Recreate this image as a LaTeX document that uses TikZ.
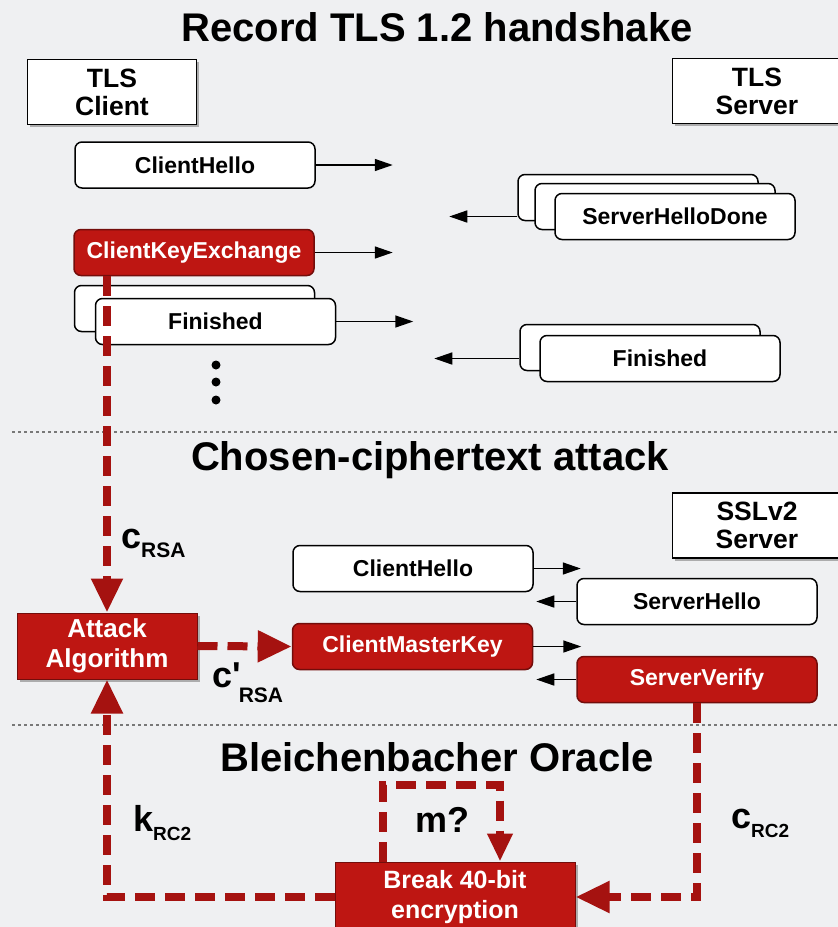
\documentclass[tikz,border=0pt]{standalone}
\usepackage{fontspec}
\setmainfont{Liberation Sans}
\usetikzlibrary{arrows.meta,shadows,positioning}
\definecolor{pagebg}{RGB}{239,240,242}
\definecolor{attackred}{RGB}{190,22,18}
\definecolor{dashred}{RGB}{165,18,16}
\definecolor{sepgray}{RGB}{120,120,120}

\begin{document}
\begin{tikzpicture}[x=1pt,y=-1pt,
    party/.style={draw,line width=1.6pt,fill=white,minimum width=169pt,minimum height=65pt,
      align=center,font=\fontsize{26.5}{28}\selectfont\bfseries,
      drop shadow={shadow xshift=2.5pt,shadow yshift=-2.5pt,opacity=.6}},
    msg/.style={draw,line width=1.5pt,rounded corners=7pt,fill=white,
      minimum width=240pt,minimum height=46pt,font=\fontsize{23}{24}\selectfont\bfseries},
    redmsg/.style={msg,fill=attackred,draw=dashred!70!black,text=white},
    attackbox/.style={draw=dashred!70!black,line width=1pt,fill=attackred,text=white,
      align=center,font=\fontsize{26}{30}\selectfont\bfseries,
      drop shadow={shadow xshift=2.5pt,shadow yshift=-2.5pt,opacity=.6}},
    msgarrow/.style={-{Triangle[length=18pt,width=12pt]},line width=1.5pt},
    attackflow/.style={dashred,line width=8pt,dash pattern=on 20pt off 10pt,
      -{Triangle[length=34pt,width=30pt]}},
    section/.style={font=\fontsize{40}{41}\selectfont\bfseries},
    sep/.style={sepgray,line width=2pt,dash pattern=on 3pt off 3pt},
    lbl/.style={font=\fontsize{36}{36}\selectfont\bfseries,inner sep=0pt}]

    \path[use as bounding box,fill=pagebg] (0,0) rectangle (838,927);

    % Record TLS 1.2 handshake
    \node[section] (title1) at (437,27) {Record TLS 1.2 handshake};
    \node[party] (client) at (112,92) {TLS\\Client};
    \node[party] (tlsserver) at (757,91) {TLS\\Server};

    \node[msg] (hello) at (195,165) {ClientHello};
    \node[redmsg] (cke) at (194,252.5) {ClientKeyExchange};
    \node[msg] (finback) at (194.5,308.5) {};
    \node[msg] (fin) at (215.5,321.5) {Finished};
    \foreach \y in {365,382,400} \fill (216,\y) circle (4.5pt);

    \node[msg] (shdA) at (638,197.5) {};
    \node[msg] (shdB) at (655,206.5) {};
    \node[msg] (shd) at (675,216.5) {ServerHelloDone};
    \node[msg] (sfinback) at (640,347.5) {};
    \node[msg] (sfin) at (660,358.5) {Finished};

    \coordinate[right=77pt of hello.east] (helloto);
    \coordinate[right=78pt of cke.east] (cketo);
    \coordinate[right=77pt of fin.east] (finto);
    \coordinate (shdfrom) at (shdA.west |- shd.west);
    \coordinate[left=68pt of shdfrom] (shdto);
    \coordinate (sfinfrom) at (sfinback.west |- sfin.west);
    \coordinate[left=85pt of sfinfrom] (sfinto);
    \draw[msgarrow] (hello.east) -- (helloto);
    \draw[msgarrow] (cke.east) -- (cketo);
    \draw[msgarrow] (fin.east) -- (finto);
    \draw[msgarrow] (shdfrom) -- (shdto);
    \draw[msgarrow] (sfinfrom) -- (sfinto);

    \coordinate (sepL1) at (12,432);
    \coordinate (sepR1) at (838,432);
    \draw[sep] (sepL1) -- (sepR1);

    % Chosen-ciphertext attack
    \node[section] (title2) at (430,460) {Chosen-ciphertext attack};
    \node[party] (sslserver) at (757,525.5) {SSLv2\\Server};

    \node[msg] (hello2) at (413,568.5) {ClientHello};
    \node[msg] (shello) at (697,601.5) {ServerHello};
    \node[redmsg] (cmk) at (412.5,646.5) {ClientMasterKey};
    \node[redmsg] (sv) at (697,679.5) {ServerVerify};
    \node[attackbox,minimum width=180pt,minimum height=66pt] (attack) at (107,646) {Attack\\Algorithm};

    \coordinate[right=47pt of hello2.east] (hello2to);
    \coordinate[left=40pt of shello.west] (shelloto);
    \coordinate[right=48pt of cmk.east] (cmkto);
    \coordinate[left=40pt of sv.west] (svto);
    \draw[msgarrow] (hello2.east) -- (hello2to);
    \draw[msgarrow] (shello.west) -- (shelloto);
    \draw[msgarrow] (cmk.east) -- (cmkto);
    \draw[msgarrow] (sv.west) -- (svto);

    \draw[attackflow] (attack.north |- cke.south) -- (attack.north);
    \draw[attackflow] (attack.east) -- (cmk.west);
    \node[lbl,anchor=west] (crsa) at (121,543) {c\raisebox{-9pt}{\fontsize{21}{21}\selectfont RSA}};
    \node[lbl,anchor=west] (cprsa) at (212,683) {c\textquotesingle\hspace{-2pt}\raisebox{-15pt}{\fontsize{21}{21}\selectfont RSA}};

    \coordinate (sepL2) at (12,725);
    \coordinate (sepR2) at (838,725);
    \draw[sep] (sepL2) -- (sepR2);

    % Bleichenbacher Oracle
    \node[section] (title3) at (437,757) {Bleichenbacher Oracle};
    \node[attackbox,minimum width=240pt,minimum height=70pt,font=\fontsize{25}{30}\selectfont\bfseries] (brk) at (455,897) {Break 40-bit\\encryption};

    \draw[attackflow] (sv.south) |- (brk.east);
    \draw[attackflow] (brk.west) -| (attack.south);
    \draw[attackflow,-{Triangle[length=28pt,width=24pt]}] ([xshift=-72pt]brk.north) -- ++(0,-77) -| ([xshift=45pt]brk.north);
    \node[lbl,anchor=west] (krc) at (133,823) {k\raisebox{-9pt}{\fontsize{19}{19}\selectfont RC2}};
    \node[lbl,anchor=west] (crc) at (731,823) {c\raisebox{-9pt}{\fontsize{19}{19}\selectfont RC2}};
    \node[lbl] (mq) at (442,820) {m?};
\end{tikzpicture}
\end{document}
